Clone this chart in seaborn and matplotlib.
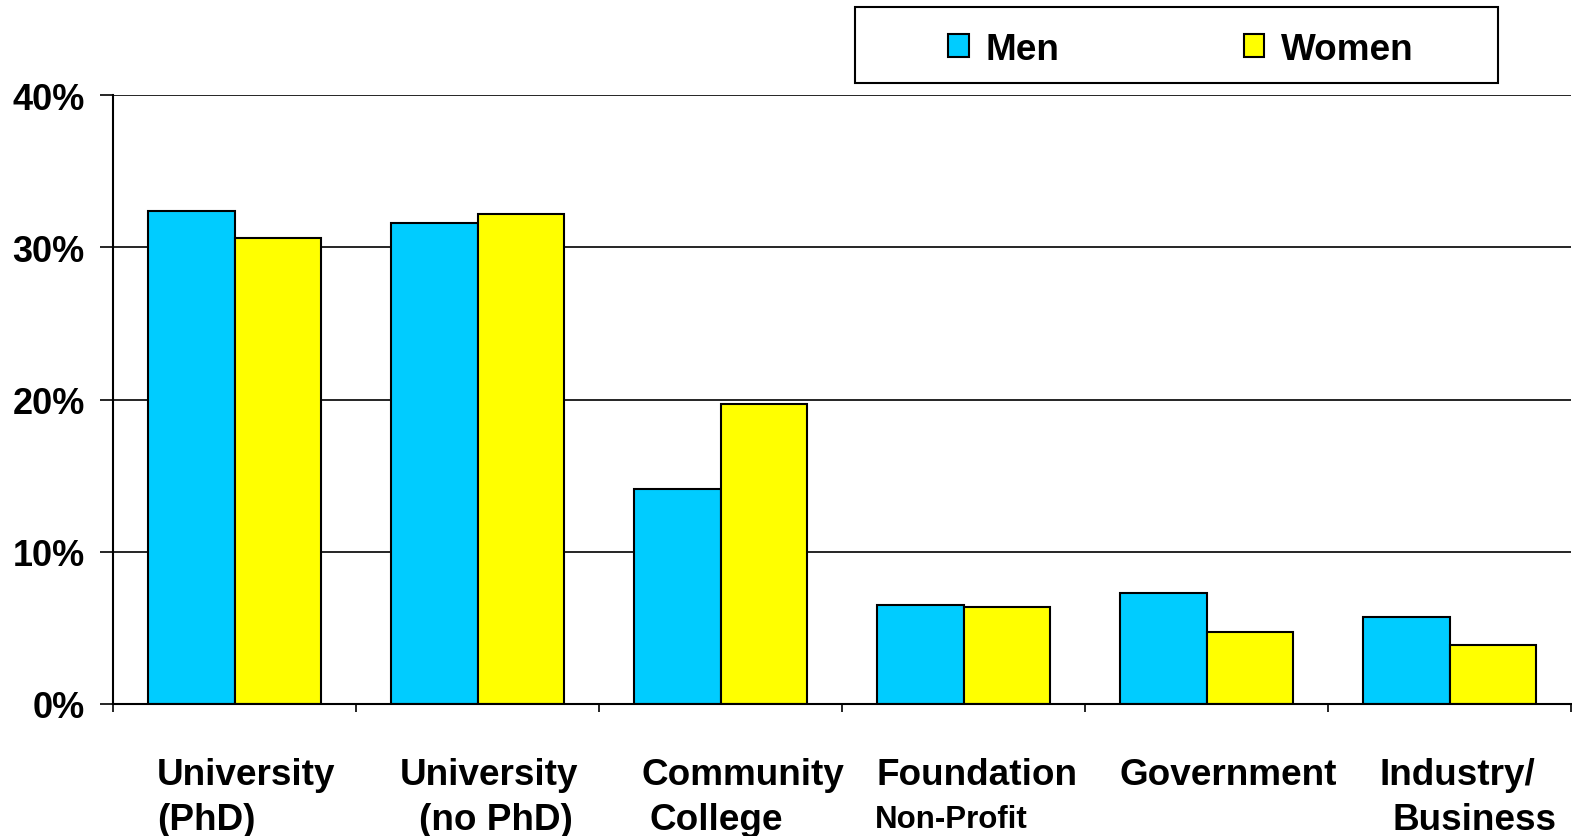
import matplotlib
matplotlib.use("Agg")
import matplotlib.pyplot as plt
import seaborn as sns
import pandas as pd
from matplotlib.ticker import PercentFormatter, FixedLocator
from matplotlib.patches import Rectangle
import matplotlib.transforms as mtransforms

categories = ["University (PhD)", "University (no PhD)", "Community College",
              "Foundation Non-Profit", "Government", "Industry/ Business"]
men = [32.4, 31.6, 14.1, 6.5, 7.3, 5.7]
women = [30.6, 32.2, 19.7, 6.4, 4.7, 3.9]
series = ["Men", "Women"]
label_line1 = ["University", "University", "Community", "Foundation", "Government", "Industry/"]
label_line2 = ["(PhD)", "(no PhD)", "College", "Non-Profit", "", "Business"]
yticks = [0, 10, 20, 30, 40]

# layout / style (not data)
line1_left = [-0.319, 0.681, 1.673, 2.644, 3.644, 4.710]
line2_left = [-0.319, 0.759, 1.706, 2.636, 3.644, 4.767]
line2_size = [26.6, 26.6, 26.6, 22.5, 26.6, 26.6]
colors = {"Men": "#00CCFF", "Women": "#FFFF00"}

df = pd.DataFrame({
    "category": categories * 2,
    "group": ["Men"] * len(categories) + ["Women"] * len(categories),
    "value": men + women,
})

sns.set_theme(style="white")
plt.rcParams["font.family"] = ["Liberation Sans", "DejaVu Sans"]
plt.rcParams["font.weight"] = "bold"
plt.rcParams["text.color"] = "black"
plt.rcParams["xtick.color"] = "black"
plt.rcParams["ytick.color"] = "black"

W, H = 1572, 837
fig = plt.figure(figsize=(W / 100, H / 100), dpi=100)
ax = fig.add_axes([113 / W, 1 - 705 / H, (1571 - 113) / W, (705 - 96) / H])

sns.barplot(data=df, x="category", y="value", hue="group", order=categories,
            hue_order=series, palette=colors, width=0.71, gap=0,
            edgecolor="black", linewidth=1.5, saturation=1, ax=ax, legend=True)

ax.set_xlim(-0.5, len(categories) - 0.5)
ax.set_ylim(0, 40)
ax.set_yticks(yticks)
ax.yaxis.set_major_formatter(PercentFormatter(decimals=0))
ax.grid(axis="y", color="black", linewidth=1.2)
ax.set_axisbelow(True)
ax.xaxis.set_major_locator(FixedLocator([i - 0.5 for i in range(len(categories) + 1)]))
ax.set_xticklabels([])
ax.tick_params(axis="x", direction="out", length=6, width=1.2, color="black", bottom=True)
ax.tick_params(axis="y", direction="out", length=9.4, width=1.2, color="black", left=True,
               labelsize=26, pad=11, labelcolor="black")
for lbl in ax.get_yticklabels():
    lbl.set_fontweight("bold")
ax.set_xlabel("")
ax.set_ylabel("")
for s in ["top", "right"]:
    ax.spines[s].set_visible(False)
for s in ["left", "bottom"]:
    ax.spines[s].set_color("black")
    ax.spines[s].set_linewidth(1.5)

trans = mtransforms.blended_transform_factory(ax.transData, ax.transAxes)
for i in range(len(categories)):
    ax.text(line1_left[i], -0.116, label_line1[i], transform=trans, ha="left", va="center",
            fontsize=26.6, fontweight="bold", color="black")
    if label_line2[i]:
        ax.text(line2_left[i], -0.189, label_line2[i], transform=trans, ha="left", va="center",
                fontsize=line2_size[i], fontweight="bold", color="black")

ax.get_legend().remove()
handles, labels = ax.get_legend_handles_labels()
fig.patches.append(Rectangle((855 / W, 1 - 84 / H), (1498 - 855) / W, 76 / H,
                             transform=fig.transFigure, facecolor="white",
                             edgecolor="black", linewidth=1.5, zorder=0))
leg = fig.legend(handles, labels, loc="center", ncol=2,
                 bbox_to_anchor=(1181 / W, 1 - 50 / H),
                 frameon=False, prop={"size": 26.6, "weight": "bold"},
                 handlelength=0.55, handleheight=0.55, handletextpad=0.45,
                 columnspacing=5.0, borderpad=0, borderaxespad=0)
for t in leg.get_texts():
    t.set_color("black")

fig.savefig("out.png", dpi=100, facecolor="white")
